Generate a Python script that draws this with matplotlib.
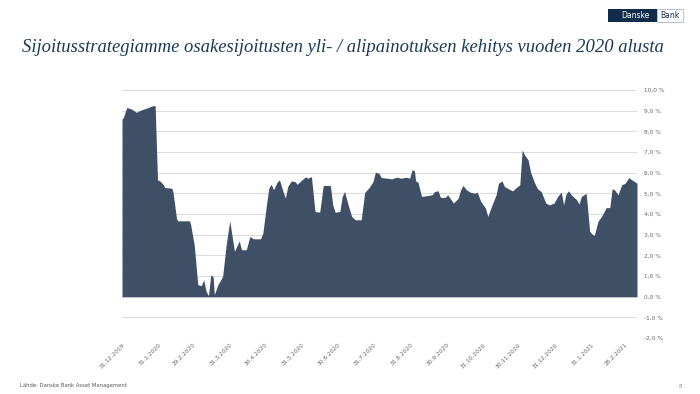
import matplotlib
matplotlib.use("Agg")
import matplotlib.pyplot as plt
import matplotlib.patches as mpatches
import numpy as np
import pandas as pd

dates = ["2019-12-31", "2020-01-01", "2020-01-04", "2020-01-08", "2020-01-12", "2020-01-16",
         "2020-01-22", "2020-01-26", "2020-01-28", "2020-01-30", "2020-02-01", "2020-02-04",
         "2020-02-05", "2020-02-11", "2020-02-12", "2020-02-15", "2020-02-16", "2020-02-26",
         "2020-02-27", "2020-03-01", "2020-03-04", "2020-03-07", "2020-03-09", "2020-03-11",
         "2020-03-13", "2020-03-15", "2020-03-17", "2020-03-18", "2020-03-21", "2020-03-25",
         "2020-03-28", "2020-03-31", "2020-04-04", "2020-04-08", "2020-04-10", "2020-04-14",
         "2020-04-17", "2020-04-20", "2020-04-26", "2020-04-28", "2020-05-01", "2020-05-03",
         "2020-05-05", "2020-05-07", "2020-05-10", "2020-05-12", "2020-05-15", "2020-05-17",
         "2020-05-19", "2020-05-22", "2020-05-25", "2020-05-27", "2020-05-31", "2020-06-03",
         "2020-06-05", "2020-06-08", "2020-06-11", "2020-06-15", "2020-06-18", "2020-06-24",
         "2020-06-26", "2020-06-28", "2020-07-02", "2020-07-04", "2020-07-06", "2020-07-09",
         "2020-07-12", "2020-07-15", "2020-07-20", "2020-07-23", "2020-07-27", "2020-07-30",
         "2020-08-01", "2020-08-04", "2020-08-06", "2020-08-11", "2020-08-15", "2020-08-19",
         "2020-08-23", "2020-08-27", "2020-08-30", "2020-09-01", "2020-09-03", "2020-09-04",
         "2020-09-06", "2020-09-09", "2020-09-13", "2020-09-18", "2020-09-20", "2020-09-23",
         "2020-09-25", "2020-09-29", "2020-10-01", "2020-10-03", "2020-10-06", "2020-10-10",
         "2020-10-12", "2020-10-14", "2020-10-17", "2020-10-20", "2020-10-24", "2020-10-26",
         "2020-10-29", "2020-11-02", "2020-11-04", "2020-11-07", "2020-11-11", "2020-11-13",
         "2020-11-16", "2020-11-18", "2020-11-23", "2020-11-25", "2020-11-28", "2020-12-01",
         "2020-12-03", "2020-12-05", "2020-12-08", "2020-12-10", "2020-12-13", "2020-12-16",
         "2020-12-19", "2020-12-23", "2020-12-26", "2020-12-30", "2021-01-02", "2021-01-05",
         "2021-01-07", "2021-01-09", "2021-01-11", "2021-01-14", "2021-01-18", "2021-01-20",
         "2021-01-22", "2021-01-26", "2021-01-27", "2021-01-29", "2021-01-31", "2021-02-02",
         "2021-02-05", "2021-02-08", "2021-02-12", "2021-02-15", "2021-02-17", "2021-02-19",
         "2021-02-22", "2021-02-25", "2021-02-28", "2021-03-03", "2021-03-07", "2021-03-10"]

overweight = [8.60, 8.65, 9.15, 9.08, 8.92, 9.03,
              9.15, 9.24, 9.24, 5.65, 5.60, 5.41,
              5.28, 5.25, 5.09, 3.80, 3.67, 3.67,
              3.48, 2.51, 0.58, 0.53, 0.82, 0.26,
              0.05, 1.06, 0.95, 0.10, 0.58, 0.98,
              2.51, 3.67, 2.19, 2.70, 2.27, 2.27,
              2.91, 2.80, 2.80, 3.08, 4.44, 5.25,
              5.44, 5.17, 5.54, 5.65, 5.09, 4.77,
              5.33, 5.60, 5.57, 5.44, 5.65, 5.80,
              5.73, 5.81, 4.12, 4.09, 5.38, 5.38,
              4.44, 4.09, 4.12, 4.85, 5.09, 4.44,
              3.88, 3.72, 3.72, 5.04, 5.30, 5.57,
              6.02, 5.97, 5.76, 5.73, 5.70, 5.78,
              5.73, 5.78, 5.73, 6.14, 6.09, 5.60,
              5.54, 4.85, 4.88, 4.93, 5.09, 5.12,
              4.80, 4.80, 4.93, 4.77, 4.53, 4.77,
              5.17, 5.38, 5.17, 5.06, 5.00, 5.06,
              4.61, 4.28, 3.88, 4.36, 4.93, 5.49,
              5.60, 5.33, 5.17, 5.12, 5.28, 5.41,
              7.10, 6.86, 6.62, 6.05, 5.57, 5.22,
              5.09, 4.53, 4.44, 4.53, 4.85, 5.06,
              4.44, 4.96, 5.12, 4.90, 4.69, 4.48,
              4.85, 5.00, 4.44, 3.16, 3.03, 2.97,
              3.64, 3.88, 4.31, 4.31, 5.22, 5.17,
              4.93, 5.41, 5.49, 5.76, 5.60, 5.49]

tick_dates = ["2019-12-31", "2020-01-31", "2020-02-29", "2020-03-31", "2020-04-30",
              "2020-05-31", "2020-06-30", "2020-07-31", "2020-08-31", "2020-09-30",
              "2020-10-31", "2020-11-30", "2020-12-31", "2021-01-31", "2021-02-28"]
tick_labels = ["31.12.2019", "31.1.2020", "29.2.2020", "31.3.2020", "30.4.2020",
               "31.5.2020", "30.6.2020", "31.7.2020", "31.8.2020", "30.9.2020",
               "31.10.2020", "30.11.2020", "31.12.2020", "31.1.2021", "28.2.2021"]
y_ticks = [-2, -1, 0, 1, 2, 3, 4, 5, 6, 7, 8, 9, 10]

title = "Sijoitusstrategiamme osakesijoitusten yli- / alipainotuksen kehitys vuoden 2020 alusta"
source = "Lähde: Danske Bank Asset Management"

x = pd.to_datetime(dates)
fill_color = "#3e4f66"
navy = "#1b3a57"

fig = plt.figure(figsize=(7.0, 3.94), dpi=100)
fig.patch.set_facecolor("white")
ax = fig.add_axes([122 / 700, 1 - 338 / 394, (637 - 122) / 700, (338 - 90) / 394])

ax.fill_between(x, overweight, 0, color=fill_color, linewidth=0)
ax.set_xlim(pd.Timestamp(dates[0]), pd.Timestamp(dates[-1]))
ax.set_ylim(-2, 10)
ax.set_yticks(y_ticks)
ax.set_yticklabels([f"{v:.1f}".replace(".", ",") + " %" for v in y_ticks])
ax.yaxis.tick_right()
ax.set_xticks(pd.to_datetime(tick_dates))
ax.set_xticklabels(tick_labels, rotation=45, ha="right", va="top", rotation_mode="anchor")
ax.tick_params(axis="both", length=0, labelsize=4.2, labelcolor="#666666")
ax.tick_params(axis="y", pad=5)
ax.tick_params(axis="x", pad=3)
for s in ax.spines.values():
    s.set_visible(False)
ax.grid(axis="y", color="#dcdcdc", linewidth=0.8)
ax.set_axisbelow(True)

t = fig.text(22 / 700, 1 - 47 / 394, title, fontsize=14, style="italic",
             family="Liberation Serif", color=navy, va="center", ha="left")
fig.canvas.draw()
w = t.get_window_extent(renderer=fig.canvas.get_renderer()).width
t.set_fontsize(14 * 645.0 / w)

fig.text(20 / 700, 1 - 386 / 394, source, fontsize=3.8, color="#555555", va="center", ha="left")
fig.text(680 / 700, 1 - 386 / 394, "8", fontsize=3.8, color="#888888", va="center", ha="center")

# Logo
lx0, lx1, lx2, ly0, ly1 = 608, 657, 683, 9, 22
fig.patches.append(mpatches.Rectangle((lx0 / 700, 1 - ly1 / 394), (lx1 - lx0) / 700, (ly1 - ly0) / 394,
                                      transform=fig.transFigure, facecolor="#0f2c4a", edgecolor="none"))
fig.patches.append(mpatches.Rectangle((lx1 / 700, 1 - ly1 / 394), (lx2 - lx1) / 700, (ly1 - ly0) / 394,
                                      transform=fig.transFigure, facecolor="white", edgecolor="#9aa5b1",
                                      linewidth=0.5))
fig.text((lx0 + lx1) / 2 / 700 + 0.004, 1 - (ly0 + ly1) / 2 / 394, "Danske", fontsize=5.5, color="white",
         va="center", ha="center")
fig.text((lx1 + lx2) / 2 / 700, 1 - (ly0 + ly1) / 2 / 394, "Bank", fontsize=5.5, color="#0f2c4a",
         va="center", ha="center")

fig.savefig("out.png", dpi=100, facecolor="white")
